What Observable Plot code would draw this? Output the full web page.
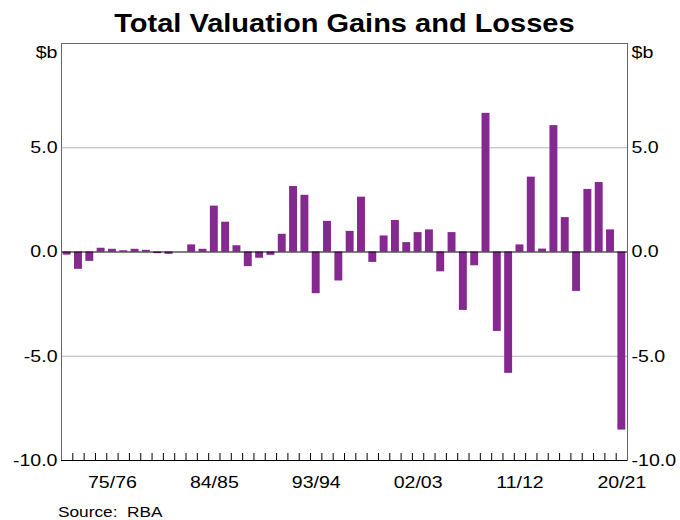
<!DOCTYPE html>
<html>
<head>
<meta charset="utf-8">
<script src="https://cdn.jsdelivr.net/npm/d3@7"></script>
<script src="https://cdn.jsdelivr.net/npm/@observablehq/plot@0.6"></script>
<style>
  html, body { margin: 0; padding: 0; background: #fff; }
  body { width: 680px; height: 520px; overflow: hidden; font-family: "Liberation Sans", Arial, sans-serif; }
  #title { height: 38px; box-sizing: border-box; padding-top: 11px; padding-left: 8px; text-align: center; font-size: 25px; font-weight: bold; line-height: 1; color: #000; }
  #title span { display: inline-block; transform: scaleX(1.16); transform-origin: center; }
  #chart svg { display: block; }
  #caption { margin-top: 4px; padding-left: 58px; font-size: 15px; line-height: 1; color: #000; }
  #caption span { display: inline-block; transform: scaleX(1.15); transform-origin: left; white-space: pre; }
</style>
</head>
<body>
<div id="title"><span>Total Valuation Gains and Losses</span></div>
<div id="chart"></div>
<div id="caption"><span>Source:  RBA</span></div>
<script>
const categories = [
  "71/72","72/73","73/74","74/75","75/76","76/77","77/78","78/79","79/80","80/81",
  "81/82","82/83","83/84","84/85","85/86","86/87","87/88","88/89","89/90","90/91",
  "91/92","92/93","93/94","94/95","95/96","96/97","97/98","98/99","99/00","00/01",
  "01/02","02/03","03/04","04/05","05/06","06/07","07/08","08/09","09/10","10/11",
  "11/12","12/13","13/14","14/15","15/16","16/17","17/18","18/19","19/20","20/21"
];
const values = [
  -0.15, -0.83, -0.45, 0.18, 0.13, 0.06, 0.13, 0.08, -0.08, -0.11,
  0.0, 0.34, 0.13, 2.2, 1.43, 0.3, -0.7, -0.3, -0.16, 0.85,
  3.14, 2.72, -2.0, 1.47, -1.39, 0.99, 2.63, -0.5, 0.77, 1.51,
  0.45, 0.93, 1.06, -0.95, 0.93, -2.8, -0.66, 6.65, -3.81, -5.82,
  0.34, 3.59, 0.14, 6.06, 1.65, -1.89, 3.0, 3.33, 1.06, -8.54
];
const tickLabels = ["75/76","84/85","93/94","02/03","11/12","20/21"];
const yTicks = [-10, -5, 0, 5];
const gridValues = [-5, 5];
const yDomain = [-10, 10];
const unitLabel = "$b";

const data = categories.map((c, i) => ({year: c, value: values[i]}));

const W = 680, H = 462;
const mL = 61, mR = 53, mT = 5, mB = 40;
const step = (W - mL - mR) / categories.length;
const plotH = H - mT - mB;
const tickPx = 7;
const tickTop = yDomain[0] + tickPx * (yDomain[1] - yDomain[0]) / plotH;

const plot = Plot.plot({
  width: W,
  height: H,
  marginLeft: mL,
  marginRight: mR,
  marginTop: mT,
  marginBottom: mB,
  style: {fontFamily: '"Liberation Sans", Arial, sans-serif', fontSize: "17px", background: "#fff", color: "#000"},
  x: {type: "band", domain: categories, paddingInner: 0.3, paddingOuter: 0.15, round: false, axis: null, label: null},
  y: {domain: yDomain, axis: null, label: null},
  marks: [
    Plot.ruleY(gridValues, {stroke: "#b4b4b4", strokeWidth: 1}),
    Plot.barY(data, {x: "year", y: "value", fill: "#85288f"}),
    Plot.ruleY([0], {stroke: "#000", strokeWidth: 1.2}),
    Plot.frame({stroke: "#666", strokeWidth: 1}),
    Plot.ruleY([yDomain[0]], {stroke: "#000", strokeWidth: 1.2}),
    Plot.ruleX(categories.slice(1), {x: d => d, y1: yDomain[0], y2: tickTop, dx: -step / 2, stroke: "#000", strokeWidth: 1}),
    Plot.axisX({ticks: tickLabels, tickSize: 0, tickPadding: 15, fontSize: 17, anchor: "bottom", label: null}),
    Plot.axisY({anchor: "left", ticks: yTicks, tickSize: 0, tickPadding: 4, fontSize: 17, label: null, tickFormat: d => d.toFixed(1)}),
    Plot.axisY({anchor: "right", ticks: yTicks, tickSize: 0, tickPadding: 4, fontSize: 17, label: null, tickFormat: d => d.toFixed(1)}),
    Plot.text([unitLabel], {text: d => d, frameAnchor: "top-left", textAnchor: "end", lineAnchor: "middle", dx: -4, dy: 9, fontSize: 17, fill: "#000"}),
    Plot.text([unitLabel], {text: d => d, frameAnchor: "top-right", textAnchor: "start", lineAnchor: "middle", dx: 4, dy: 9, fontSize: 17, fill: "#000"})
  ]
});
document.getElementById("chart").appendChild(plot);

// stretch the glyphs horizontally to match the reference's wide lettering
plot.querySelectorAll("text").forEach(t => {
  const w = t.getComputedTextLength();
  if (w > 0) {
    t.setAttribute("textLength", (w * 1.15).toFixed(1));
    t.setAttribute("lengthAdjust", "spacingAndGlyphs");
  }
});
</script>
</body>
</html>
